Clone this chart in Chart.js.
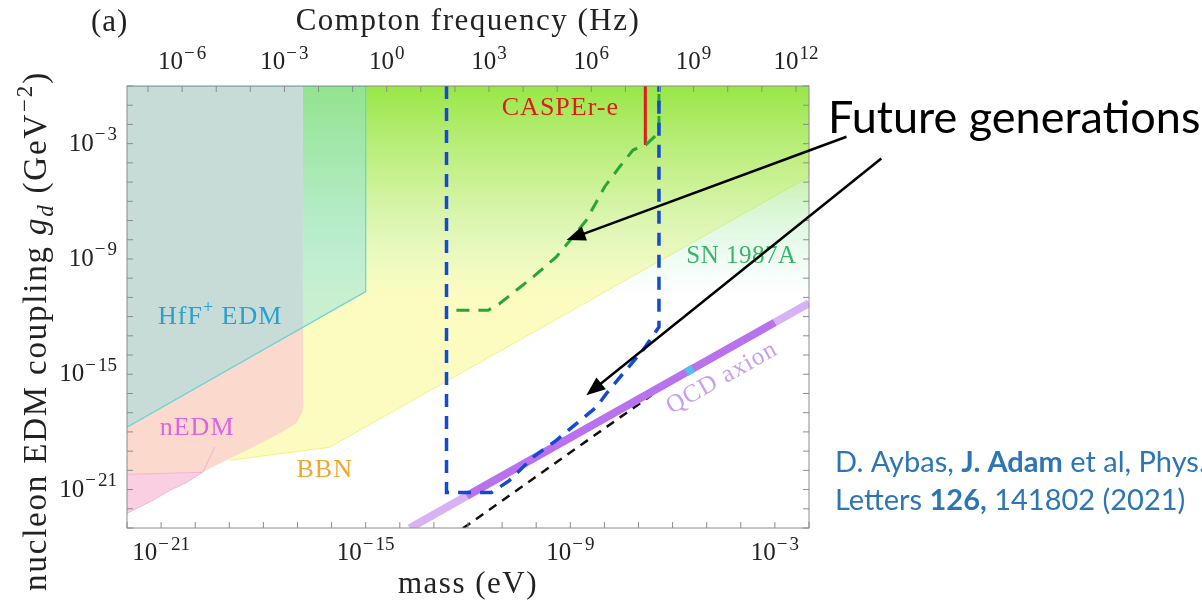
<!DOCTYPE html>
<html>
<head>
<meta charset="utf-8">
<script src="https://cdn.jsdelivr.net/npm/chart.js@4.4.1/dist/chart.umd.min.js"></script>
<style>
  html, body { margin: 0; padding: 0; background: #fff; }
  canvas { display: block; }
</style>
</head>
<body>
<canvas id="edm-chart" width="1202" height="606"></canvas>
<script>
// every curve is kept as log10(mass / eV) and log10(g_d / GeV^-2)
const HZ_PER_EV = 2.418e14;

const massTicks = [-22, -21, -20, -19, -18, -17, -16, -15, -14, -13, -12, -11, -10, -9, -8, -7, -6, -5, -4, -3, -2];
const massLabels = [-21, -15, -9, -3];
const freqTicks = [-7, -6, -5, -4, -3, -2, -1, 0, 1, 2, 3, 4, 5, 6, 7, 8, 9, 10, 11, 12];
const freqLabels = [-6, -3, 0, 3, 6, 9, 12];
const couplingTicks = [-23, -22, -21, -20, -19, -18, -17, -16, -15, -14, -13, -12, -11, -10, -9, -8, -7, -6, -5, -4, -3, -2, -1, 0];
const couplingLabels = [-21, -15, -9, -3];

// excluded regions (closed outlines)
const hffMass = [-22, -15, -15, -22];
const hffCoupling = [0, 0, -10.7, -17.75];
const nedmMass = [-22, -16.84, -16.84, -17.03, -17.52, -18.31, -18.99, -19.78, -22];
const nedmCoupling = [0, 0, -16.88, -17.55, -18.07, -18.80, -19.38, -20.10, -20.21];
const nedmLowMass = [-22, -21.24, -20.74, -20.25, -19.78, -22];
const nedmLowCoupling = [-22.24, -21.56, -21.04, -20.63, -20.10, -20.21];
const nedmEdgeMass = [-19.78, -19.43];
const nedmEdgeCoupling = [-20.10, -18.80];
const bbnMass = [-19, -16.06, -2, -2, -19];
const bbnCoupling = [-19.48, -18.80, -4.72, 0, 0];
const snMass = [-16.84, -2, -2, -16.84];
const snCoupling = [0, 0, -11, -11];

// curves
const caspereMass = [-6.80, -6.80];
const caspereCoupling = [0, -3.07];
const futureGreenMass = [-12.34, -11.41, -11.07, -10.09, -9.41, -8.92, -8.53, -7.99, -7.55, -7.16, -6.78, -6.48, -6.40, -6.40];
const futureGreenCoupling = [-11.67, -11.67, -11.32, -9.93, -8.89, -7.85, -6.98, -5.24, -4.20, -3.33, -3.05, -2.55, -2.45, 0];
const futureBlueMass = [-12.63, -12.63, -11.31, -10.78, -10.09, -9.41, -8.82, -8.23, -7.94, -7.45, -6.87, -6.40, -6.40];
const futureBlueCoupling = [0, -21.15, -21.15, -20.52, -19.31, -18.44, -17.57, -16.70, -16.0, -14.96, -13.75, -12.54, 0];
const blackDashMass = [-12.15, -6.62];
const blackDashCoupling = [-23.02, -16.09];
const qcdLowMass = [-13.71, -12.04];
const qcdLowCoupling = [-23.01, -21.34];
const qcdMidMass = [-12.04, -3.0];
const qcdMidCoupling = [-21.34, -12.3];
const qcdCyanMass = [-5.6, -5.4];
const qcdCyanCoupling = [-14.9, -14.7];
const qcdHighMass = [-3.0, -2.0];
const qcdHighCoupling = [-12.3, -11.3];

// annotations, anchored in data coordinates
const arrows = [
  {from: [-0.90, -2.64], to: [-9.11, -8.02]},
  {from: [0.12, -3.77], to: [-8.53, -16.09]}
];

const SERIF = '"Liberation Serif", "DejaVu Serif", serif';
function serif(size, style) {
  return (style ? style + ' ' : '') + size + 'px ' + SERIF;
}

function pts(ms, gs) {
  return ms.map((m, i) => ({x: Math.pow(10, m), y: Math.pow(10, gs[i])}));
}

function snFill(c) {
  const chart = c.chart;
  if (!chart.chartArea) return 'rgba(0,0,0,0)';
  const y = chart.scales.y;
  const g = chart.ctx.createLinearGradient(0, y.getPixelForValue(1), 0, y.getPixelForValue(1e-11));
  g.addColorStop(0, 'rgba(125,225,35,0.78)');
  g.addColorStop(0.45, 'rgba(140,228,90,0.45)');
  g.addColorStop(0.75, 'rgba(150,232,170,0.22)');
  g.addColorStop(1, 'rgba(170,240,210,0)');
  return g;
}

function region(ms, gs, bg, border, bw) {
  return {data: pts(ms, gs), fill: 'shape', backgroundColor: bg, borderColor: border || 'rgba(0,0,0,0)', borderWidth: bw || 0};
}
function curve(ms, gs, color, width, dash) {
  return {data: pts(ms, gs), fill: false, borderColor: color, borderWidth: width, borderDash: dash || [], borderCapStyle: 'butt'};
}

// bottom layer first
const layers = [
  region(bbnMass, bbnCoupling, 'rgba(250,250,140,0.55)', 'rgba(240,240,130,0.9)', 1),
  region(snMass, snCoupling, snFill),
  region(nedmMass, nedmCoupling, 'rgb(251,217,205)'),
  region(nedmLowMass, nedmLowCoupling, 'rgb(250,207,226)', 'rgba(240,170,210,0.8)', 1),
  curve(nedmEdgeMass, nedmEdgeCoupling, 'rgba(240,170,210,0.9)', 1),
  region(hffMass, hffCoupling, 'rgba(136,225,228,0.45)', 'rgba(90,210,215,0.9)', 1.2),
  curve(blackDashMass, blackDashCoupling, '#111', 2.5, [9, 7]),
  curve(qcdLowMass, qcdLowCoupling, '#d8b2f5', 8),
  curve(qcdMidMass, qcdMidCoupling, '#b872ee', 8),
  curve(qcdCyanMass, qcdCyanCoupling, '#52bdf0', 8),
  curve(qcdHighMass, qcdHighCoupling, '#d8b2f5', 8),
  curve(caspereMass, caspereCoupling, '#e31a1a', 3),
  curve(futureGreenMass, futureGreenCoupling, '#28a532', 3, [13, 9]),
  curve(futureBlueMass, futureBlueCoupling, '#1449d4', 3.5, [13, 9])
];
layers.forEach((d, i) => { d.order = layers.length - i; d.pointRadius = 0; d.tension = 0; });

function drawRich(ctx, parts, x, y, align, spacing) {
  ctx.letterSpacing = (spacing || 0) + 'px';
  ctx.textAlign = 'left';
  let w = 0;
  for (const p of parts) { ctx.font = p.font; w += ctx.measureText(p.t).width + (p.gap || 0); }
  let cx = align === 'center' ? x - w / 2 : align === 'right' ? x - w : x;
  for (const p of parts) {
    ctx.font = p.font;
    if (p.color) ctx.fillStyle = p.color;
    cx += p.gap || 0;
    ctx.fillText(p.t, cx, y + (p.dy || 0));
    cx += ctx.measureText(p.t).width;
  }
  ctx.letterSpacing = '0px';
}

function power(e, size) {
  const sup = serif(Math.round(size * 0.76));
  const parts = [{t: '10', font: serif(size)}];
  if (e < 0) parts.push({t: '\u2212', font: sup, dy: -size * 0.42, gap: 1});
  parts.push({t: String(Math.abs(e)), font: sup, dy: -size * 0.42, gap: e < 0 ? 2 : 1});
  return parts;
}

function arrow(ctx, x1, y1, x2, y2) {
  const a = Math.atan2(y2 - y1, x2 - x1), L = 19, W = 7.5;
  const c = Math.cos(a), s = Math.sin(a);
  ctx.beginPath();
  ctx.moveTo(x1, y1);
  ctx.lineTo(x2 - L * 0.8 * c, y2 - L * 0.8 * s);
  ctx.stroke();
  ctx.beginPath();
  ctx.moveTo(x2, y2);
  ctx.lineTo(x2 - L * c + W * s, y2 - L * s - W * c);
  ctx.lineTo(x2 - L * c - W * s, y2 - L * s + W * c);
  ctx.closePath();
  ctx.fill();
}

const decorations = {
  id: 'decorations',
  afterDatasetsDraw(chart) {
    const {ctx, scales: {x, y}} = chart;
    const px = m => x.getPixelForValue(Math.pow(10, m));
    const py = g => y.getPixelForValue(Math.pow(10, g));
    ctx.save();
    ctx.textBaseline = 'alphabetic';
    drawRich(ctx, [{t: 'CASPEr-e', font: serif(26), color: '#e31a1a'}], px(-9.29), py(-1.51), 'center', 1);
    drawRich(ctx, [
      {t: 'HfF', font: serif(26), color: '#2a9fd2'},
      {t: '+', font: serif(18), dy: -11},
      {t: ' EDM', font: serif(26)}
    ], px(-21.09), py(-12.36), 'left', 1);
    drawRich(ctx, [{t: 'nEDM', font: serif(26), color: '#dc64e4'}], px(-21.04), py(-18.18), 'left', 1);
    drawRich(ctx, [{t: 'BBN', font: serif(26), color: '#f0a832'}], px(-17.03), py(-20.35), 'left', 1);
    drawRich(ctx, [{t: 'SN 1987A', font: serif(25), color: '#3cb46a'}], px(-5.60), py(-9.20), 'left', 0.5);
    // QCD axion label follows the slope of the band
    const ang = Math.atan2(py(-13.3) - py(-15.3), px(-4) - px(-6));
    ctx.translate(px(-4.55), py(-15.2));
    ctx.rotate(ang);
    ctx.textBaseline = 'middle';
    drawRich(ctx, [{t: 'QCD axion', font: serif(25), color: '#c79ff0'}], 0, 0, 'center', 1);
    ctx.restore();
  },
  afterDraw(chart) {
    const {ctx, chartArea: a, scales: {x, y, freq}} = chart;
    ctx.save();
    // frame and inward ticks
    ctx.strokeStyle = '#8c8c8c';
    ctx.lineWidth = 1;
    ctx.strokeRect(a.left, a.top, a.right - a.left, a.bottom - a.top);
    ctx.beginPath();
    massTicks.forEach(m => {
      const p = x.getPixelForValue(Math.pow(10, m));
      ctx.moveTo(p, a.bottom); ctx.lineTo(p, a.bottom - 6);
    });
    freqTicks.forEach(f => {
      const p = freq.getPixelForValue(Math.pow(10, f));
      ctx.moveTo(p, a.top); ctx.lineTo(p, a.top + 6);
    });
    couplingTicks.forEach(g => {
      const p = y.getPixelForValue(Math.pow(10, g));
      ctx.moveTo(a.left, p); ctx.lineTo(a.left + 6, p);
      ctx.moveTo(a.right, p); ctx.lineTo(a.right - 6, p);
    });
    ctx.stroke();

    ctx.fillStyle = '#222';
    ctx.textBaseline = 'alphabetic';
    massLabels.forEach(m => drawRich(ctx, power(m, 25), x.getPixelForValue(Math.pow(10, m)), a.bottom + 32, 'center'));
    freqLabels.forEach(f => drawRich(ctx, power(f, 25), freq.getPixelForValue(Math.pow(10, f)), a.top - 17, 'center'));
    couplingLabels.forEach(g => drawRich(ctx, power(g, 25), a.left - 10, y.getPixelForValue(Math.pow(10, g)) + 7, 'right'));

    const mid = (a.left + a.right) / 2;
    drawRich(ctx, [{t: 'Compton frequency (Hz)', font: serif(31)}], mid, 30, 'center', 1.5);
    drawRich(ctx, [{t: 'mass (eV)', font: serif(31)}], mid, 593, 'center', 1.5);
    drawRich(ctx, [{t: '(a)', font: serif(31)}], 91, 31, 'left', 1);

    ctx.save();
    ctx.translate(46, 331);
    ctx.rotate(-Math.PI / 2);
    drawRich(ctx, [
      {t: 'nucleon EDM coupling ', font: serif(33)},
      {t: 'g', font: serif(33, 'italic')},
      {t: 'd', font: serif(23, 'italic'), dy: 7},
      {t: ' (GeV', font: serif(33)},
      {t: '\u22122', font: serif(23), dy: -14, gap: 1},
      {t: ')', font: serif(33)}
    ], 0, 0, 'center', 1.8);
    ctx.restore();

    // slide annotations
    ctx.fillStyle = '#000';
    drawRich(ctx, [{t: 'Future generations', font: '45px Lato, "Open Sans", sans-serif'}], 828, 133, 'left');
    ctx.fillStyle = '#2e75b6';
    const reg = '29px Lato, "Open Sans", sans-serif';
    const bold = '700 29px Lato, "Open Sans", sans-serif';
    drawRich(ctx, [
      {t: 'D. Aybas, ', font: reg}, {t: 'J. Adam', font: bold}, {t: ' et al, Phys. Rev.', font: reg}
    ], 835, 472, 'left');
    drawRich(ctx, [
      {t: 'Letters ', font: reg}, {t: '126,', font: bold}, {t: ' 141802 (2021)', font: reg}
    ], 835, 510, 'left');

    ctx.strokeStyle = '#000';
    ctx.fillStyle = '#000';
    ctx.lineWidth = 2.5;
    arrows.forEach(ar => {
      arrow(ctx,
        x.getPixelForValue(Math.pow(10, ar.from[0])), y.getPixelForValue(Math.pow(10, ar.from[1])),
        x.getPixelForValue(Math.pow(10, ar.to[0])), y.getPixelForValue(Math.pow(10, ar.to[1])));
    });
    ctx.restore();
  }
};

new Chart(document.getElementById('edm-chart'), {
  type: 'line',
  data: {datasets: layers},
  plugins: [decorations],
  options: {
    responsive: false,
    animation: false,
    layout: {padding: {left: 127, top: 86, right: 393, bottom: 78}},
    plugins: {legend: {display: false}, tooltip: {enabled: false}},
    scales: {
      x: {type: 'logarithmic', min: 1e-22, max: 1e-2, display: false},
      y: {type: 'logarithmic', min: 1e-23, max: 1, display: false},
      freq: {type: 'logarithmic', axis: 'x', position: 'top', min: 1e-22 * HZ_PER_EV, max: 1e-2 * HZ_PER_EV, display: false}
    }
  }
});
</script>
</body>
</html>
